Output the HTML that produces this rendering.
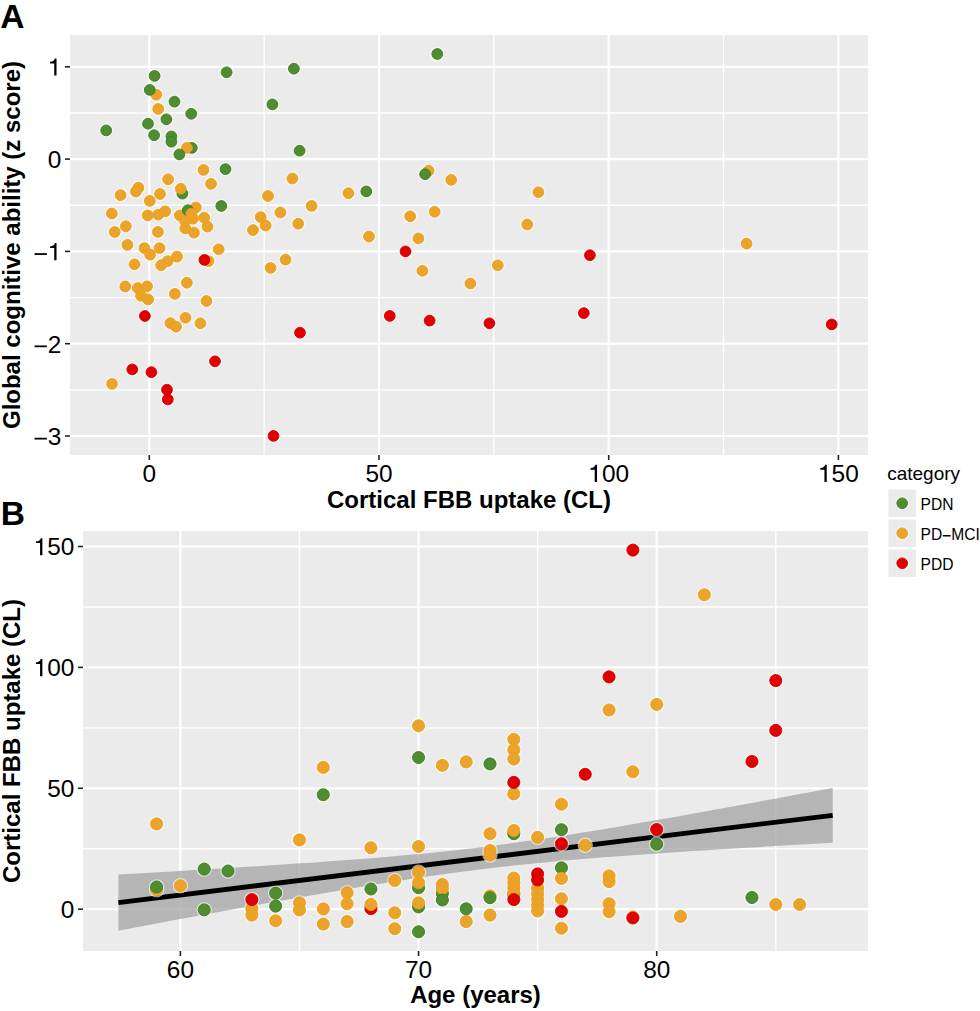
<!DOCTYPE html><html><head><meta charset="utf-8"><style>html,body{margin:0;padding:0;background:#fff;}svg{display:block;}text{font-family:"Liberation Sans",sans-serif;}</style></head><body>
<svg width="980" height="1011" viewBox="0 0 980 1011">
<rect width="980" height="1011" fill="#fff"/>
<rect x="70" y="35" width="798" height="420" fill="#ebebeb"/>
<line x1="264.15" y1="35" x2="264.15" y2="455" stroke="#fff" stroke-width="1.35"/>
<line x1="493.85" y1="35" x2="493.85" y2="455" stroke="#fff" stroke-width="1.35"/>
<line x1="723.55" y1="35" x2="723.55" y2="455" stroke="#fff" stroke-width="1.35"/>
<line x1="70" y1="112.95" x2="868" y2="112.95" stroke="#fff" stroke-width="1.35"/>
<line x1="70" y1="205.25" x2="868" y2="205.25" stroke="#fff" stroke-width="1.35"/>
<line x1="70" y1="297.55" x2="868" y2="297.55" stroke="#fff" stroke-width="1.35"/>
<line x1="70" y1="389.85" x2="868" y2="389.85" stroke="#fff" stroke-width="1.35"/>
<line x1="149.3" y1="35" x2="149.3" y2="455" stroke="#fff" stroke-width="2.2"/>
<line x1="379" y1="35" x2="379" y2="455" stroke="#fff" stroke-width="2.2"/>
<line x1="608.7" y1="35" x2="608.7" y2="455" stroke="#fff" stroke-width="2.2"/>
<line x1="838.4" y1="35" x2="838.4" y2="455" stroke="#fff" stroke-width="2.2"/>
<line x1="70" y1="66.8" x2="868" y2="66.8" stroke="#fff" stroke-width="2.2"/>
<line x1="70" y1="159.1" x2="868" y2="159.1" stroke="#fff" stroke-width="2.2"/>
<line x1="70" y1="251.4" x2="868" y2="251.4" stroke="#fff" stroke-width="2.2"/>
<line x1="70" y1="343.7" x2="868" y2="343.7" stroke="#fff" stroke-width="2.2"/>
<line x1="70" y1="436" x2="868" y2="436" stroke="#fff" stroke-width="2.2"/>
<rect x="83" y="531" width="785" height="420" fill="#ebebeb"/>
<line x1="299.48" y1="531" x2="299.48" y2="951" stroke="#fff" stroke-width="1.35"/>
<line x1="537.62" y1="531" x2="537.62" y2="951" stroke="#fff" stroke-width="1.35"/>
<line x1="775.77" y1="531" x2="775.77" y2="951" stroke="#fff" stroke-width="1.35"/>
<line x1="83" y1="848.75" x2="868" y2="848.75" stroke="#fff" stroke-width="1.35"/>
<line x1="83" y1="727.85" x2="868" y2="727.85" stroke="#fff" stroke-width="1.35"/>
<line x1="83" y1="606.95" x2="868" y2="606.95" stroke="#fff" stroke-width="1.35"/>
<line x1="180.4" y1="531" x2="180.4" y2="951" stroke="#fff" stroke-width="2.2"/>
<line x1="418.55" y1="531" x2="418.55" y2="951" stroke="#fff" stroke-width="2.2"/>
<line x1="656.7" y1="531" x2="656.7" y2="951" stroke="#fff" stroke-width="2.2"/>
<line x1="83" y1="909.2" x2="868" y2="909.2" stroke="#fff" stroke-width="2.2"/>
<line x1="83" y1="788.3" x2="868" y2="788.3" stroke="#fff" stroke-width="2.2"/>
<line x1="83" y1="667.4" x2="868" y2="667.4" stroke="#fff" stroke-width="2.2"/>
<line x1="83" y1="546.5" x2="868" y2="546.5" stroke="#fff" stroke-width="2.2"/>
<text x="142.51" y="481.9" font-size="24.4">0</text>
<text x="365.43" y="481.9" font-size="24.4">50</text>
<path d="M262 0L356 0L356 703L290 703C270 620 225 580 92 566L92 500L262 500Z" transform="translate(588.34,481.9) scale(0.024399999999999998,-0.024399999999999998)"/>
<text x="601.91" y="481.9" font-size="24.4">00</text>
<path d="M262 0L356 0L356 703L290 703C270 620 225 580 92 566L92 500L262 500Z" transform="translate(818.04,481.9) scale(0.024399999999999998,-0.024399999999999998)"/>
<text x="831.61" y="481.9" font-size="24.4">50</text>
<path d="M262 0L356 0L356 703L290 703C270 620 225 580 92 566L92 500L262 500Z" transform="translate(47.83,75.6) scale(0.024399999999999998,-0.024399999999999998)"/>
<text x="47.83" y="167.9" font-size="24.4">0</text>
<rect x="34.53" y="253.15" width="12.35" height="1.78"/>
<path d="M262 0L356 0L356 703L290 703C270 620 225 580 92 566L92 500L262 500Z" transform="translate(47.83,260.2) scale(0.024399999999999998,-0.024399999999999998)"/>
<rect x="34.53" y="345.45" width="12.35" height="1.78"/>
<text x="47.83" y="352.5" font-size="24.4">2</text>
<rect x="34.53" y="437.75" width="12.35" height="1.78"/>
<text x="47.83" y="444.8" font-size="24.4">3</text>
<text x="166.83" y="977.8" font-size="24.4">60</text>
<text x="404.98" y="977.8" font-size="24.4">70</text>
<text x="643.13" y="977.8" font-size="24.4">80</text>
<text x="60.83" y="918" font-size="24.4">0</text>
<text x="47.26" y="797.1" font-size="24.4">50</text>
<path d="M262 0L356 0L356 703L290 703C270 620 225 580 92 566L92 500L262 500Z" transform="translate(33.69,676.2) scale(0.024399999999999998,-0.024399999999999998)"/>
<text x="47.26" y="676.2" font-size="24.4">00</text>
<path d="M262 0L356 0L356 703L290 703C270 620 225 580 92 566L92 500L262 500Z" transform="translate(33.69,555.3) scale(0.024399999999999998,-0.024399999999999998)"/>
<text x="47.26" y="555.3" font-size="24.4">50</text>
<line x1="149.3" y1="455" x2="149.3" y2="460" stroke="#222" stroke-width="1.6"/>
<line x1="379" y1="455" x2="379" y2="460" stroke="#222" stroke-width="1.6"/>
<line x1="608.7" y1="455" x2="608.7" y2="460" stroke="#222" stroke-width="1.6"/>
<line x1="838.4" y1="455" x2="838.4" y2="460" stroke="#222" stroke-width="1.6"/>
<line x1="65" y1="66.8" x2="70" y2="66.8" stroke="#222" stroke-width="1.6"/>
<line x1="65" y1="159.1" x2="70" y2="159.1" stroke="#222" stroke-width="1.6"/>
<line x1="65" y1="251.4" x2="70" y2="251.4" stroke="#222" stroke-width="1.6"/>
<line x1="65" y1="343.7" x2="70" y2="343.7" stroke="#222" stroke-width="1.6"/>
<line x1="65" y1="436" x2="70" y2="436" stroke="#222" stroke-width="1.6"/>
<line x1="180.4" y1="951" x2="180.4" y2="956" stroke="#222" stroke-width="1.6"/>
<line x1="418.55" y1="951" x2="418.55" y2="956" stroke="#222" stroke-width="1.6"/>
<line x1="656.7" y1="951" x2="656.7" y2="956" stroke="#222" stroke-width="1.6"/>
<line x1="78" y1="909.2" x2="83" y2="909.2" stroke="#222" stroke-width="1.6"/>
<line x1="78" y1="788.3" x2="83" y2="788.3" stroke="#222" stroke-width="1.6"/>
<line x1="78" y1="667.4" x2="83" y2="667.4" stroke="#222" stroke-width="1.6"/>
<line x1="78" y1="546.5" x2="83" y2="546.5" stroke="#222" stroke-width="1.6"/>
<polygon points="118.4,874.4 136.3,873.4 154.1,872.4 172.0,871.4 189.8,870.3 207.7,869.3 225.5,868.2 243.4,867.1 261.3,865.9 279.1,864.8 297.0,863.6 314.8,862.4 332.7,861.1 350.5,859.8 368.4,858.4 386.3,856.9 404.1,855.3 422.0,853.7 439.8,851.9 457.7,849.9 475.6,847.9 493.4,845.7 511.3,843.3 529.1,840.8 547.0,838.2 564.8,835.5 582.7,832.6 600.6,829.7 618.4,826.7 636.3,823.6 654.1,820.5 672.0,817.4 689.8,814.2 707.7,811.0 725.6,807.7 743.4,804.5 761.3,801.2 779.1,797.9 797.0,794.5 814.8,791.2 832.7,787.9 832.7,842.7 814.8,843.7 797.0,844.8 779.1,845.8 761.3,846.9 743.4,848.0 725.6,849.1 707.7,850.2 689.8,851.3 672.0,852.5 654.1,853.7 636.3,854.9 618.4,856.3 600.6,857.6 582.7,859.1 564.8,860.6 547.0,862.2 529.1,864.0 511.3,865.8 493.4,867.8 475.6,870.0 457.7,872.3 439.8,874.7 422.0,877.3 404.1,880.0 386.3,882.8 368.4,885.7 350.5,888.6 332.7,891.7 314.8,894.7 297.0,897.9 279.1,901.0 261.3,904.3 243.4,907.5 225.5,910.8 207.7,914.0 189.8,917.3 172.0,920.6 154.1,924.0 136.3,927.3 118.4,930.7" fill="#999999" fill-opacity="0.67"/>
<line x1="118.4" y1="902.55" x2="832.7" y2="815.3" stroke="#000" stroke-width="4.8"/>
<g fill="#fff" opacity="0.6">
<circle cx="293.9" cy="68.7" r="7.05"/>
<circle cx="272.4" cy="104.4" r="7.05"/>
<circle cx="299.6" cy="150.7" r="7.05"/>
<circle cx="437.3" cy="54" r="7.05"/>
<circle cx="292.4" cy="178.5" r="7.05"/>
<circle cx="428.6" cy="170.7" r="7.05"/>
<circle cx="425.1" cy="174.2" r="7.05"/>
<circle cx="451.2" cy="179.9" r="7.05"/>
<circle cx="538.4" cy="192.2" r="7.05"/>
<circle cx="410.2" cy="216.3" r="7.05"/>
<circle cx="434.7" cy="211.8" r="7.05"/>
<circle cx="527.3" cy="224.5" r="7.05"/>
<circle cx="418.4" cy="238.4" r="7.05"/>
<circle cx="405.5" cy="251.4" r="7.05"/>
<circle cx="422.4" cy="270.8" r="7.05"/>
<circle cx="497.8" cy="265.3" r="7.05"/>
<circle cx="470.4" cy="283.5" r="7.05"/>
<circle cx="389.8" cy="315.9" r="7.05"/>
<circle cx="429.6" cy="320.6" r="7.05"/>
<circle cx="489.4" cy="323.3" r="7.05"/>
<circle cx="589.9" cy="255.2" r="7.05"/>
<circle cx="583.8" cy="313.1" r="7.05"/>
<circle cx="746.6" cy="243.6" r="7.05"/>
<circle cx="831.7" cy="324.4" r="7.05"/>
<circle cx="268" cy="196" r="7.05"/>
<circle cx="348.4" cy="193.2" r="7.05"/>
<circle cx="366.3" cy="191.4" r="7.05"/>
<circle cx="311.6" cy="205.9" r="7.05"/>
<circle cx="280.4" cy="212.5" r="7.05"/>
<circle cx="260.7" cy="217.1" r="7.05"/>
<circle cx="265.6" cy="225.5" r="7.05"/>
<circle cx="253" cy="230.1" r="7.05"/>
<circle cx="298.2" cy="223.7" r="7.05"/>
<circle cx="369" cy="236.5" r="7.05"/>
<circle cx="285.6" cy="259.6" r="7.05"/>
<circle cx="270.6" cy="267.9" r="7.05"/>
<circle cx="300" cy="332.7" r="7.05"/>
<circle cx="273.5" cy="435.9" r="7.05"/>
<circle cx="154.6" cy="75.9" r="7.05"/>
<circle cx="156.3" cy="94.7" r="7.05"/>
<circle cx="149.8" cy="89.9" r="7.05"/>
<circle cx="158.2" cy="108.9" r="7.05"/>
<circle cx="166.4" cy="119.3" r="7.05"/>
<circle cx="148" cy="123.7" r="7.05"/>
<circle cx="106.2" cy="130.4" r="7.05"/>
<circle cx="226.6" cy="72.3" r="7.05"/>
<circle cx="174.5" cy="101.6" r="7.05"/>
<circle cx="191.2" cy="113.8" r="7.05"/>
<circle cx="154.1" cy="135.2" r="7.05"/>
<circle cx="171.4" cy="136.4" r="7.05"/>
<circle cx="171.4" cy="141.7" r="7.05"/>
<circle cx="191.8" cy="147.9" r="7.05"/>
<circle cx="186.9" cy="147.9" r="7.05"/>
<circle cx="179.4" cy="154.4" r="7.05"/>
<circle cx="168.2" cy="179.3" r="7.05"/>
<circle cx="182.4" cy="193.6" r="7.05"/>
<circle cx="180.8" cy="188.7" r="7.05"/>
<circle cx="138.4" cy="187.7" r="7.05"/>
<circle cx="135.9" cy="191.5" r="7.05"/>
<circle cx="160" cy="194" r="7.05"/>
<circle cx="149.8" cy="200.9" r="7.05"/>
<circle cx="120.6" cy="195.1" r="7.05"/>
<circle cx="111.8" cy="213.5" r="7.05"/>
<circle cx="125.9" cy="226.3" r="7.05"/>
<circle cx="114.7" cy="232" r="7.05"/>
<circle cx="127.4" cy="244.9" r="7.05"/>
<circle cx="134.5" cy="264.3" r="7.05"/>
<circle cx="147.7" cy="215.4" r="7.05"/>
<circle cx="158.3" cy="214.6" r="7.05"/>
<circle cx="165.2" cy="211.3" r="7.05"/>
<circle cx="157.9" cy="231.9" r="7.05"/>
<circle cx="144.4" cy="248.1" r="7.05"/>
<circle cx="150.1" cy="254.6" r="7.05"/>
<circle cx="159.5" cy="248.1" r="7.05"/>
<circle cx="161.1" cy="265.2" r="7.05"/>
<circle cx="167.7" cy="261.1" r="7.05"/>
<circle cx="177" cy="256.6" r="7.05"/>
<circle cx="208.5" cy="261.1" r="7.05"/>
<circle cx="204.4" cy="259.9" r="7.05"/>
<circle cx="179.9" cy="215.4" r="7.05"/>
<circle cx="193" cy="218.7" r="7.05"/>
<circle cx="204.2" cy="217.7" r="7.05"/>
<circle cx="207.5" cy="226.6" r="7.05"/>
<circle cx="185.3" cy="228.4" r="7.05"/>
<circle cx="194" cy="232.7" r="7.05"/>
<circle cx="185.1" cy="220.9" r="7.05"/>
<circle cx="195.8" cy="207.4" r="7.05"/>
<circle cx="187.8" cy="210.2" r="7.05"/>
<circle cx="203.5" cy="169.9" r="7.05"/>
<circle cx="225.5" cy="169.1" r="7.05"/>
<circle cx="211" cy="183.8" r="7.05"/>
<circle cx="221.3" cy="206" r="7.05"/>
<circle cx="218.7" cy="249.3" r="7.05"/>
<circle cx="125.3" cy="286.5" r="7.05"/>
<circle cx="137.8" cy="288" r="7.05"/>
<circle cx="147.1" cy="286.3" r="7.05"/>
<circle cx="141" cy="295.7" r="7.05"/>
<circle cx="148.1" cy="299.4" r="7.05"/>
<circle cx="144.9" cy="316" r="7.05"/>
<circle cx="186.9" cy="282.7" r="7.05"/>
<circle cx="174.9" cy="293.9" r="7.05"/>
<circle cx="206.5" cy="301" r="7.05"/>
<circle cx="185.5" cy="317.8" r="7.05"/>
<circle cx="200.4" cy="323.3" r="7.05"/>
<circle cx="170.4" cy="323.1" r="7.05"/>
<circle cx="176.1" cy="326.7" r="7.05"/>
<circle cx="132.3" cy="369.4" r="7.05"/>
<circle cx="151.4" cy="372.2" r="7.05"/>
<circle cx="112" cy="383.9" r="7.05"/>
<circle cx="215" cy="361.3" r="7.05"/>
<circle cx="167" cy="389.7" r="7.05"/>
<circle cx="167.8" cy="399.4" r="7.05"/>
<circle cx="191.3" cy="213.7" r="7.05"/>
</g>
<circle cx="293.9" cy="68.7" r="5.4" fill="#4f8e30" stroke="#3d7d1c" stroke-width="0.9"/>
<circle cx="272.4" cy="104.4" r="5.4" fill="#4f8e30" stroke="#3d7d1c" stroke-width="0.9"/>
<circle cx="299.6" cy="150.7" r="5.4" fill="#4f8e30" stroke="#3d7d1c" stroke-width="0.9"/>
<circle cx="437.3" cy="54" r="5.4" fill="#4f8e30" stroke="#3d7d1c" stroke-width="0.9"/>
<circle cx="292.4" cy="178.5" r="5.4" fill="#eaa42c" stroke="#ee9d10" stroke-width="0.9"/>
<circle cx="428.6" cy="170.7" r="5.4" fill="#eaa42c" stroke="#ee9d10" stroke-width="0.9"/>
<circle cx="425.1" cy="174.2" r="5.4" fill="#4f8e30" stroke="#3d7d1c" stroke-width="0.9"/>
<circle cx="451.2" cy="179.9" r="5.4" fill="#eaa42c" stroke="#ee9d10" stroke-width="0.9"/>
<circle cx="538.4" cy="192.2" r="5.4" fill="#eaa42c" stroke="#ee9d10" stroke-width="0.9"/>
<circle cx="410.2" cy="216.3" r="5.4" fill="#eaa42c" stroke="#ee9d10" stroke-width="0.9"/>
<circle cx="434.7" cy="211.8" r="5.4" fill="#eaa42c" stroke="#ee9d10" stroke-width="0.9"/>
<circle cx="527.3" cy="224.5" r="5.4" fill="#eaa42c" stroke="#ee9d10" stroke-width="0.9"/>
<circle cx="418.4" cy="238.4" r="5.4" fill="#eaa42c" stroke="#ee9d10" stroke-width="0.9"/>
<circle cx="405.5" cy="251.4" r="5.4" fill="#e00000" stroke="#d40000" stroke-width="0.9"/>
<circle cx="422.4" cy="270.8" r="5.4" fill="#eaa42c" stroke="#ee9d10" stroke-width="0.9"/>
<circle cx="497.8" cy="265.3" r="5.4" fill="#eaa42c" stroke="#ee9d10" stroke-width="0.9"/>
<circle cx="470.4" cy="283.5" r="5.4" fill="#eaa42c" stroke="#ee9d10" stroke-width="0.9"/>
<circle cx="389.8" cy="315.9" r="5.4" fill="#e00000" stroke="#d40000" stroke-width="0.9"/>
<circle cx="429.6" cy="320.6" r="5.4" fill="#e00000" stroke="#d40000" stroke-width="0.9"/>
<circle cx="489.4" cy="323.3" r="5.4" fill="#e00000" stroke="#d40000" stroke-width="0.9"/>
<circle cx="589.9" cy="255.2" r="5.4" fill="#e00000" stroke="#d40000" stroke-width="0.9"/>
<circle cx="583.8" cy="313.1" r="5.4" fill="#e00000" stroke="#d40000" stroke-width="0.9"/>
<circle cx="746.6" cy="243.6" r="5.4" fill="#eaa42c" stroke="#ee9d10" stroke-width="0.9"/>
<circle cx="831.7" cy="324.4" r="5.4" fill="#e00000" stroke="#d40000" stroke-width="0.9"/>
<circle cx="268" cy="196" r="5.4" fill="#eaa42c" stroke="#ee9d10" stroke-width="0.9"/>
<circle cx="348.4" cy="193.2" r="5.4" fill="#eaa42c" stroke="#ee9d10" stroke-width="0.9"/>
<circle cx="366.3" cy="191.4" r="5.4" fill="#4f8e30" stroke="#3d7d1c" stroke-width="0.9"/>
<circle cx="311.6" cy="205.9" r="5.4" fill="#eaa42c" stroke="#ee9d10" stroke-width="0.9"/>
<circle cx="280.4" cy="212.5" r="5.4" fill="#eaa42c" stroke="#ee9d10" stroke-width="0.9"/>
<circle cx="260.7" cy="217.1" r="5.4" fill="#eaa42c" stroke="#ee9d10" stroke-width="0.9"/>
<circle cx="265.6" cy="225.5" r="5.4" fill="#eaa42c" stroke="#ee9d10" stroke-width="0.9"/>
<circle cx="253" cy="230.1" r="5.4" fill="#eaa42c" stroke="#ee9d10" stroke-width="0.9"/>
<circle cx="298.2" cy="223.7" r="5.4" fill="#eaa42c" stroke="#ee9d10" stroke-width="0.9"/>
<circle cx="369" cy="236.5" r="5.4" fill="#eaa42c" stroke="#ee9d10" stroke-width="0.9"/>
<circle cx="285.6" cy="259.6" r="5.4" fill="#eaa42c" stroke="#ee9d10" stroke-width="0.9"/>
<circle cx="270.6" cy="267.9" r="5.4" fill="#eaa42c" stroke="#ee9d10" stroke-width="0.9"/>
<circle cx="300" cy="332.7" r="5.4" fill="#e00000" stroke="#d40000" stroke-width="0.9"/>
<circle cx="273.5" cy="435.9" r="5.4" fill="#e00000" stroke="#d40000" stroke-width="0.9"/>
<circle cx="154.6" cy="75.9" r="5.4" fill="#4f8e30" stroke="#3d7d1c" stroke-width="0.9"/>
<circle cx="156.3" cy="94.7" r="5.4" fill="#eaa42c" stroke="#ee9d10" stroke-width="0.9"/>
<circle cx="149.8" cy="89.9" r="5.4" fill="#4f8e30" stroke="#3d7d1c" stroke-width="0.9"/>
<circle cx="158.2" cy="108.9" r="5.4" fill="#eaa42c" stroke="#ee9d10" stroke-width="0.9"/>
<circle cx="166.4" cy="119.3" r="5.4" fill="#4f8e30" stroke="#3d7d1c" stroke-width="0.9"/>
<circle cx="148" cy="123.7" r="5.4" fill="#4f8e30" stroke="#3d7d1c" stroke-width="0.9"/>
<circle cx="106.2" cy="130.4" r="5.4" fill="#4f8e30" stroke="#3d7d1c" stroke-width="0.9"/>
<circle cx="226.6" cy="72.3" r="5.4" fill="#4f8e30" stroke="#3d7d1c" stroke-width="0.9"/>
<circle cx="174.5" cy="101.6" r="5.4" fill="#4f8e30" stroke="#3d7d1c" stroke-width="0.9"/>
<circle cx="191.2" cy="113.8" r="5.4" fill="#4f8e30" stroke="#3d7d1c" stroke-width="0.9"/>
<circle cx="154.1" cy="135.2" r="5.4" fill="#4f8e30" stroke="#3d7d1c" stroke-width="0.9"/>
<circle cx="171.4" cy="136.4" r="5.4" fill="#4f8e30" stroke="#3d7d1c" stroke-width="0.9"/>
<circle cx="171.4" cy="141.7" r="5.4" fill="#4f8e30" stroke="#3d7d1c" stroke-width="0.9"/>
<circle cx="191.8" cy="147.9" r="5.4" fill="#4f8e30" stroke="#3d7d1c" stroke-width="0.9"/>
<circle cx="186.9" cy="147.9" r="5.4" fill="#eaa42c" stroke="#ee9d10" stroke-width="0.9"/>
<circle cx="179.4" cy="154.4" r="5.4" fill="#4f8e30" stroke="#3d7d1c" stroke-width="0.9"/>
<circle cx="168.2" cy="179.3" r="5.4" fill="#eaa42c" stroke="#ee9d10" stroke-width="0.9"/>
<circle cx="182.4" cy="193.6" r="5.4" fill="#4f8e30" stroke="#3d7d1c" stroke-width="0.9"/>
<circle cx="180.8" cy="188.7" r="5.4" fill="#eaa42c" stroke="#ee9d10" stroke-width="0.9"/>
<circle cx="138.4" cy="187.7" r="5.4" fill="#eaa42c" stroke="#ee9d10" stroke-width="0.9"/>
<circle cx="135.9" cy="191.5" r="5.4" fill="#eaa42c" stroke="#ee9d10" stroke-width="0.9"/>
<circle cx="160" cy="194" r="5.4" fill="#eaa42c" stroke="#ee9d10" stroke-width="0.9"/>
<circle cx="149.8" cy="200.9" r="5.4" fill="#eaa42c" stroke="#ee9d10" stroke-width="0.9"/>
<circle cx="120.6" cy="195.1" r="5.4" fill="#eaa42c" stroke="#ee9d10" stroke-width="0.9"/>
<circle cx="111.8" cy="213.5" r="5.4" fill="#eaa42c" stroke="#ee9d10" stroke-width="0.9"/>
<circle cx="125.9" cy="226.3" r="5.4" fill="#eaa42c" stroke="#ee9d10" stroke-width="0.9"/>
<circle cx="114.7" cy="232" r="5.4" fill="#eaa42c" stroke="#ee9d10" stroke-width="0.9"/>
<circle cx="127.4" cy="244.9" r="5.4" fill="#eaa42c" stroke="#ee9d10" stroke-width="0.9"/>
<circle cx="134.5" cy="264.3" r="5.4" fill="#eaa42c" stroke="#ee9d10" stroke-width="0.9"/>
<circle cx="147.7" cy="215.4" r="5.4" fill="#eaa42c" stroke="#ee9d10" stroke-width="0.9"/>
<circle cx="158.3" cy="214.6" r="5.4" fill="#eaa42c" stroke="#ee9d10" stroke-width="0.9"/>
<circle cx="165.2" cy="211.3" r="5.4" fill="#eaa42c" stroke="#ee9d10" stroke-width="0.9"/>
<circle cx="157.9" cy="231.9" r="5.4" fill="#eaa42c" stroke="#ee9d10" stroke-width="0.9"/>
<circle cx="144.4" cy="248.1" r="5.4" fill="#eaa42c" stroke="#ee9d10" stroke-width="0.9"/>
<circle cx="150.1" cy="254.6" r="5.4" fill="#eaa42c" stroke="#ee9d10" stroke-width="0.9"/>
<circle cx="159.5" cy="248.1" r="5.4" fill="#eaa42c" stroke="#ee9d10" stroke-width="0.9"/>
<circle cx="161.1" cy="265.2" r="5.4" fill="#eaa42c" stroke="#ee9d10" stroke-width="0.9"/>
<circle cx="167.7" cy="261.1" r="5.4" fill="#eaa42c" stroke="#ee9d10" stroke-width="0.9"/>
<circle cx="177" cy="256.6" r="5.4" fill="#eaa42c" stroke="#ee9d10" stroke-width="0.9"/>
<circle cx="208.5" cy="261.1" r="5.4" fill="#eaa42c" stroke="#ee9d10" stroke-width="0.9"/>
<circle cx="204.4" cy="259.9" r="5.4" fill="#e00000" stroke="#d40000" stroke-width="0.9"/>
<circle cx="179.9" cy="215.4" r="5.4" fill="#eaa42c" stroke="#ee9d10" stroke-width="0.9"/>
<circle cx="193" cy="218.7" r="5.4" fill="#eaa42c" stroke="#ee9d10" stroke-width="0.9"/>
<circle cx="204.2" cy="217.7" r="5.4" fill="#eaa42c" stroke="#ee9d10" stroke-width="0.9"/>
<circle cx="207.5" cy="226.6" r="5.4" fill="#eaa42c" stroke="#ee9d10" stroke-width="0.9"/>
<circle cx="185.3" cy="228.4" r="5.4" fill="#eaa42c" stroke="#ee9d10" stroke-width="0.9"/>
<circle cx="194" cy="232.7" r="5.4" fill="#eaa42c" stroke="#ee9d10" stroke-width="0.9"/>
<circle cx="185.1" cy="220.9" r="5.4" fill="#eaa42c" stroke="#ee9d10" stroke-width="0.9"/>
<circle cx="195.8" cy="207.4" r="5.4" fill="#eaa42c" stroke="#ee9d10" stroke-width="0.9"/>
<circle cx="187.8" cy="210.2" r="5.4" fill="#4f8e30" stroke="#3d7d1c" stroke-width="0.9"/>
<circle cx="203.5" cy="169.9" r="5.4" fill="#eaa42c" stroke="#ee9d10" stroke-width="0.9"/>
<circle cx="225.5" cy="169.1" r="5.4" fill="#4f8e30" stroke="#3d7d1c" stroke-width="0.9"/>
<circle cx="211" cy="183.8" r="5.4" fill="#eaa42c" stroke="#ee9d10" stroke-width="0.9"/>
<circle cx="221.3" cy="206" r="5.4" fill="#4f8e30" stroke="#3d7d1c" stroke-width="0.9"/>
<circle cx="218.7" cy="249.3" r="5.4" fill="#eaa42c" stroke="#ee9d10" stroke-width="0.9"/>
<circle cx="125.3" cy="286.5" r="5.4" fill="#eaa42c" stroke="#ee9d10" stroke-width="0.9"/>
<circle cx="137.8" cy="288" r="5.4" fill="#eaa42c" stroke="#ee9d10" stroke-width="0.9"/>
<circle cx="147.1" cy="286.3" r="5.4" fill="#eaa42c" stroke="#ee9d10" stroke-width="0.9"/>
<circle cx="141" cy="295.7" r="5.4" fill="#eaa42c" stroke="#ee9d10" stroke-width="0.9"/>
<circle cx="148.1" cy="299.4" r="5.4" fill="#eaa42c" stroke="#ee9d10" stroke-width="0.9"/>
<circle cx="144.9" cy="316" r="5.4" fill="#e00000" stroke="#d40000" stroke-width="0.9"/>
<circle cx="186.9" cy="282.7" r="5.4" fill="#eaa42c" stroke="#ee9d10" stroke-width="0.9"/>
<circle cx="174.9" cy="293.9" r="5.4" fill="#eaa42c" stroke="#ee9d10" stroke-width="0.9"/>
<circle cx="206.5" cy="301" r="5.4" fill="#eaa42c" stroke="#ee9d10" stroke-width="0.9"/>
<circle cx="185.5" cy="317.8" r="5.4" fill="#eaa42c" stroke="#ee9d10" stroke-width="0.9"/>
<circle cx="200.4" cy="323.3" r="5.4" fill="#eaa42c" stroke="#ee9d10" stroke-width="0.9"/>
<circle cx="170.4" cy="323.1" r="5.4" fill="#eaa42c" stroke="#ee9d10" stroke-width="0.9"/>
<circle cx="176.1" cy="326.7" r="5.4" fill="#eaa42c" stroke="#ee9d10" stroke-width="0.9"/>
<circle cx="132.3" cy="369.4" r="5.4" fill="#e00000" stroke="#d40000" stroke-width="0.9"/>
<circle cx="151.4" cy="372.2" r="5.4" fill="#e00000" stroke="#d40000" stroke-width="0.9"/>
<circle cx="112" cy="383.9" r="5.4" fill="#eaa42c" stroke="#ee9d10" stroke-width="0.9"/>
<circle cx="215" cy="361.3" r="5.4" fill="#e00000" stroke="#d40000" stroke-width="0.9"/>
<circle cx="167" cy="389.7" r="5.4" fill="#e00000" stroke="#d40000" stroke-width="0.9"/>
<circle cx="167.8" cy="399.4" r="5.4" fill="#e00000" stroke="#d40000" stroke-width="0.9"/>
<circle cx="191.3" cy="213.7" r="5.4" fill="#eaa42c" stroke="#ee9d10" stroke-width="0.9"/>
<g fill="#fff" opacity="0.6">
<circle cx="704.33" cy="594.7" r="7.7"/>
<circle cx="775.77" cy="680.6" r="7.7"/>
<circle cx="775.77" cy="730.4" r="7.7"/>
<circle cx="632.88" cy="550.1" r="7.7"/>
<circle cx="609.07" cy="676.9" r="7.7"/>
<circle cx="609.07" cy="710" r="7.7"/>
<circle cx="656.7" cy="704.4" r="7.7"/>
<circle cx="513.81" cy="739.4" r="7.7"/>
<circle cx="513.81" cy="749.7" r="7.7"/>
<circle cx="513.81" cy="759" r="7.7"/>
<circle cx="466.18" cy="761.9" r="7.7"/>
<circle cx="490" cy="763.9" r="7.7"/>
<circle cx="156.59" cy="823.9" r="7.7"/>
<circle cx="156.59" cy="889.8" r="7.7"/>
<circle cx="156.59" cy="887" r="7.7"/>
<circle cx="180.4" cy="885.7" r="7.7"/>
<circle cx="204.22" cy="869.1" r="7.7"/>
<circle cx="204.22" cy="909.9" r="7.7"/>
<circle cx="228.03" cy="871" r="7.7"/>
<circle cx="251.85" cy="908.6" r="7.7"/>
<circle cx="251.85" cy="915.1" r="7.7"/>
<circle cx="251.85" cy="899.6" r="7.7"/>
<circle cx="275.66" cy="893.1" r="7.7"/>
<circle cx="275.66" cy="906.1" r="7.7"/>
<circle cx="275.66" cy="920.8" r="7.7"/>
<circle cx="299.48" cy="902.9" r="7.7"/>
<circle cx="299.48" cy="909.9" r="7.7"/>
<circle cx="323.29" cy="908.9" r="7.7"/>
<circle cx="323.29" cy="924.1" r="7.7"/>
<circle cx="347.11" cy="892.6" r="7.7"/>
<circle cx="347.11" cy="903.7" r="7.7"/>
<circle cx="347.11" cy="921.6" r="7.7"/>
<circle cx="370.92" cy="847.8" r="7.7"/>
<circle cx="370.92" cy="889" r="7.7"/>
<circle cx="370.92" cy="908.6" r="7.7"/>
<circle cx="370.92" cy="904.5" r="7.7"/>
<circle cx="394.74" cy="880.5" r="7.7"/>
<circle cx="394.74" cy="912.8" r="7.7"/>
<circle cx="394.74" cy="928.7" r="7.7"/>
<circle cx="418.55" cy="846.5" r="7.7"/>
<circle cx="418.55" cy="887.7" r="7.7"/>
<circle cx="418.55" cy="882.8" r="7.7"/>
<circle cx="418.55" cy="872.3" r="7.7"/>
<circle cx="418.55" cy="906.9" r="7.7"/>
<circle cx="418.55" cy="902.9" r="7.7"/>
<circle cx="418.55" cy="931.8" r="7.7"/>
<circle cx="323.29" cy="767.4" r="7.7"/>
<circle cx="323.29" cy="794.7" r="7.7"/>
<circle cx="418.55" cy="757.5" r="7.7"/>
<circle cx="299.48" cy="839.9" r="7.7"/>
<circle cx="418.55" cy="725.8" r="7.7"/>
<circle cx="442.37" cy="765.3" r="7.7"/>
<circle cx="513.81" cy="793.9" r="7.7"/>
<circle cx="513.81" cy="782.4" r="7.7"/>
<circle cx="561.44" cy="804.2" r="7.7"/>
<circle cx="442.37" cy="884.5" r="7.7"/>
<circle cx="442.37" cy="893.5" r="7.7"/>
<circle cx="442.37" cy="888.6" r="7.7"/>
<circle cx="442.37" cy="900" r="7.7"/>
<circle cx="466.18" cy="921.6" r="7.7"/>
<circle cx="466.18" cy="908.8" r="7.7"/>
<circle cx="490" cy="895.9" r="7.7"/>
<circle cx="490" cy="897.7" r="7.7"/>
<circle cx="490" cy="915.1" r="7.7"/>
<circle cx="513.81" cy="894.3" r="7.7"/>
<circle cx="513.81" cy="878" r="7.7"/>
<circle cx="513.81" cy="883" r="7.7"/>
<circle cx="513.81" cy="888" r="7.7"/>
<circle cx="513.81" cy="892.7" r="7.7"/>
<circle cx="513.81" cy="899.6" r="7.7"/>
<circle cx="537.62" cy="888.2" r="7.7"/>
<circle cx="537.62" cy="893.9" r="7.7"/>
<circle cx="537.62" cy="899.6" r="7.7"/>
<circle cx="537.62" cy="905.3" r="7.7"/>
<circle cx="537.62" cy="911" r="7.7"/>
<circle cx="537.62" cy="873.9" r="7.7"/>
<circle cx="537.62" cy="880" r="7.7"/>
<circle cx="561.44" cy="867.8" r="7.7"/>
<circle cx="561.44" cy="878.4" r="7.7"/>
<circle cx="561.44" cy="898.8" r="7.7"/>
<circle cx="561.44" cy="911.4" r="7.7"/>
<circle cx="561.44" cy="928.2" r="7.7"/>
<circle cx="490" cy="833.7" r="7.7"/>
<circle cx="490" cy="850.5" r="7.7"/>
<circle cx="490" cy="855" r="7.7"/>
<circle cx="513.81" cy="833.7" r="7.7"/>
<circle cx="513.81" cy="830.5" r="7.7"/>
<circle cx="537.62" cy="837.4" r="7.7"/>
<circle cx="561.44" cy="829.7" r="7.7"/>
<circle cx="561.44" cy="843.8" r="7.7"/>
<circle cx="585.25" cy="774.3" r="7.7"/>
<circle cx="632.88" cy="771.8" r="7.7"/>
<circle cx="656.7" cy="829.5" r="7.7"/>
<circle cx="656.7" cy="844.2" r="7.7"/>
<circle cx="585.25" cy="845.3" r="7.7"/>
<circle cx="609.07" cy="875.9" r="7.7"/>
<circle cx="609.07" cy="881.6" r="7.7"/>
<circle cx="609.07" cy="903.7" r="7.7"/>
<circle cx="609.07" cy="911.8" r="7.7"/>
<circle cx="632.88" cy="917.1" r="7.7"/>
<circle cx="632.88" cy="918" r="7.7"/>
<circle cx="680.51" cy="916.4" r="7.7"/>
<circle cx="751.96" cy="897.5" r="7.7"/>
<circle cx="775.77" cy="904.5" r="7.7"/>
<circle cx="799.59" cy="904.5" r="7.7"/>
<circle cx="751.96" cy="761.5" r="7.7"/>
</g>
<circle cx="704.33" cy="594.7" r="6.05" fill="#eaa42c" stroke="#ee9d10" stroke-width="0.9"/>
<circle cx="775.77" cy="680.6" r="6.05" fill="#e00000" stroke="#d40000" stroke-width="0.9"/>
<circle cx="775.77" cy="730.4" r="6.05" fill="#e00000" stroke="#d40000" stroke-width="0.9"/>
<circle cx="632.88" cy="550.1" r="6.05" fill="#e00000" stroke="#d40000" stroke-width="0.9"/>
<circle cx="609.07" cy="676.9" r="6.05" fill="#e00000" stroke="#d40000" stroke-width="0.9"/>
<circle cx="609.07" cy="710" r="6.05" fill="#eaa42c" stroke="#ee9d10" stroke-width="0.9"/>
<circle cx="656.7" cy="704.4" r="6.05" fill="#eaa42c" stroke="#ee9d10" stroke-width="0.9"/>
<circle cx="513.81" cy="739.4" r="6.05" fill="#eaa42c" stroke="#ee9d10" stroke-width="0.9"/>
<circle cx="513.81" cy="749.7" r="6.05" fill="#eaa42c" stroke="#ee9d10" stroke-width="0.9"/>
<circle cx="513.81" cy="759" r="6.05" fill="#eaa42c" stroke="#ee9d10" stroke-width="0.9"/>
<circle cx="466.18" cy="761.9" r="6.05" fill="#eaa42c" stroke="#ee9d10" stroke-width="0.9"/>
<circle cx="490" cy="763.9" r="6.05" fill="#4f8e30" stroke="#3d7d1c" stroke-width="0.9"/>
<circle cx="156.59" cy="823.9" r="6.05" fill="#eaa42c" stroke="#ee9d10" stroke-width="0.9"/>
<circle cx="156.59" cy="889.8" r="6.05" fill="#eaa42c" stroke="#ee9d10" stroke-width="0.9"/>
<circle cx="156.59" cy="887" r="6.05" fill="#4f8e30" stroke="#3d7d1c" stroke-width="0.9"/>
<circle cx="180.4" cy="885.7" r="6.05" fill="#eaa42c" stroke="#ee9d10" stroke-width="0.9"/>
<circle cx="204.22" cy="869.1" r="6.05" fill="#4f8e30" stroke="#3d7d1c" stroke-width="0.9"/>
<circle cx="204.22" cy="909.9" r="6.05" fill="#4f8e30" stroke="#3d7d1c" stroke-width="0.9"/>
<circle cx="228.03" cy="871" r="6.05" fill="#4f8e30" stroke="#3d7d1c" stroke-width="0.9"/>
<circle cx="251.85" cy="908.6" r="6.05" fill="#eaa42c" stroke="#ee9d10" stroke-width="0.9"/>
<circle cx="251.85" cy="915.1" r="6.05" fill="#eaa42c" stroke="#ee9d10" stroke-width="0.9"/>
<circle cx="251.85" cy="899.6" r="6.05" fill="#e00000" stroke="#d40000" stroke-width="0.9"/>
<circle cx="275.66" cy="893.1" r="6.05" fill="#4f8e30" stroke="#3d7d1c" stroke-width="0.9"/>
<circle cx="275.66" cy="906.1" r="6.05" fill="#4f8e30" stroke="#3d7d1c" stroke-width="0.9"/>
<circle cx="275.66" cy="920.8" r="6.05" fill="#eaa42c" stroke="#ee9d10" stroke-width="0.9"/>
<circle cx="299.48" cy="902.9" r="6.05" fill="#eaa42c" stroke="#ee9d10" stroke-width="0.9"/>
<circle cx="299.48" cy="909.9" r="6.05" fill="#eaa42c" stroke="#ee9d10" stroke-width="0.9"/>
<circle cx="323.29" cy="908.9" r="6.05" fill="#eaa42c" stroke="#ee9d10" stroke-width="0.9"/>
<circle cx="323.29" cy="924.1" r="6.05" fill="#eaa42c" stroke="#ee9d10" stroke-width="0.9"/>
<circle cx="347.11" cy="892.6" r="6.05" fill="#eaa42c" stroke="#ee9d10" stroke-width="0.9"/>
<circle cx="347.11" cy="903.7" r="6.05" fill="#eaa42c" stroke="#ee9d10" stroke-width="0.9"/>
<circle cx="347.11" cy="921.6" r="6.05" fill="#eaa42c" stroke="#ee9d10" stroke-width="0.9"/>
<circle cx="370.92" cy="847.8" r="6.05" fill="#eaa42c" stroke="#ee9d10" stroke-width="0.9"/>
<circle cx="370.92" cy="889" r="6.05" fill="#4f8e30" stroke="#3d7d1c" stroke-width="0.9"/>
<circle cx="370.92" cy="908.6" r="6.05" fill="#e00000" stroke="#d40000" stroke-width="0.9"/>
<circle cx="370.92" cy="904.5" r="6.05" fill="#eaa42c" stroke="#ee9d10" stroke-width="0.9"/>
<circle cx="394.74" cy="880.5" r="6.05" fill="#eaa42c" stroke="#ee9d10" stroke-width="0.9"/>
<circle cx="394.74" cy="912.8" r="6.05" fill="#eaa42c" stroke="#ee9d10" stroke-width="0.9"/>
<circle cx="394.74" cy="928.7" r="6.05" fill="#eaa42c" stroke="#ee9d10" stroke-width="0.9"/>
<circle cx="418.55" cy="846.5" r="6.05" fill="#eaa42c" stroke="#ee9d10" stroke-width="0.9"/>
<circle cx="418.55" cy="887.7" r="6.05" fill="#4f8e30" stroke="#3d7d1c" stroke-width="0.9"/>
<circle cx="418.55" cy="882.8" r="6.05" fill="#eaa42c" stroke="#ee9d10" stroke-width="0.9"/>
<circle cx="418.55" cy="872.3" r="6.05" fill="#eaa42c" stroke="#ee9d10" stroke-width="0.9"/>
<circle cx="418.55" cy="906.9" r="6.05" fill="#4f8e30" stroke="#3d7d1c" stroke-width="0.9"/>
<circle cx="418.55" cy="902.9" r="6.05" fill="#eaa42c" stroke="#ee9d10" stroke-width="0.9"/>
<circle cx="418.55" cy="931.8" r="6.05" fill="#4f8e30" stroke="#3d7d1c" stroke-width="0.9"/>
<circle cx="323.29" cy="767.4" r="6.05" fill="#eaa42c" stroke="#ee9d10" stroke-width="0.9"/>
<circle cx="323.29" cy="794.7" r="6.05" fill="#4f8e30" stroke="#3d7d1c" stroke-width="0.9"/>
<circle cx="418.55" cy="757.5" r="6.05" fill="#4f8e30" stroke="#3d7d1c" stroke-width="0.9"/>
<circle cx="299.48" cy="839.9" r="6.05" fill="#eaa42c" stroke="#ee9d10" stroke-width="0.9"/>
<circle cx="418.55" cy="725.8" r="6.05" fill="#eaa42c" stroke="#ee9d10" stroke-width="0.9"/>
<circle cx="442.37" cy="765.3" r="6.05" fill="#eaa42c" stroke="#ee9d10" stroke-width="0.9"/>
<circle cx="513.81" cy="793.9" r="6.05" fill="#eaa42c" stroke="#ee9d10" stroke-width="0.9"/>
<circle cx="513.81" cy="782.4" r="6.05" fill="#e00000" stroke="#d40000" stroke-width="0.9"/>
<circle cx="561.44" cy="804.2" r="6.05" fill="#eaa42c" stroke="#ee9d10" stroke-width="0.9"/>
<circle cx="442.37" cy="884.5" r="6.05" fill="#eaa42c" stroke="#ee9d10" stroke-width="0.9"/>
<circle cx="442.37" cy="893.5" r="6.05" fill="#4f8e30" stroke="#3d7d1c" stroke-width="0.9"/>
<circle cx="442.37" cy="888.6" r="6.05" fill="#eaa42c" stroke="#ee9d10" stroke-width="0.9"/>
<circle cx="442.37" cy="900" r="6.05" fill="#4f8e30" stroke="#3d7d1c" stroke-width="0.9"/>
<circle cx="466.18" cy="921.6" r="6.05" fill="#eaa42c" stroke="#ee9d10" stroke-width="0.9"/>
<circle cx="466.18" cy="908.8" r="6.05" fill="#4f8e30" stroke="#3d7d1c" stroke-width="0.9"/>
<circle cx="490" cy="895.9" r="6.05" fill="#eaa42c" stroke="#ee9d10" stroke-width="0.9"/>
<circle cx="490" cy="897.7" r="6.05" fill="#4f8e30" stroke="#3d7d1c" stroke-width="0.9"/>
<circle cx="490" cy="915.1" r="6.05" fill="#eaa42c" stroke="#ee9d10" stroke-width="0.9"/>
<circle cx="513.81" cy="894.3" r="6.05" fill="#4f8e30" stroke="#3d7d1c" stroke-width="0.9"/>
<circle cx="513.81" cy="878" r="6.05" fill="#eaa42c" stroke="#ee9d10" stroke-width="0.9"/>
<circle cx="513.81" cy="883" r="6.05" fill="#eaa42c" stroke="#ee9d10" stroke-width="0.9"/>
<circle cx="513.81" cy="888" r="6.05" fill="#eaa42c" stroke="#ee9d10" stroke-width="0.9"/>
<circle cx="513.81" cy="892.7" r="6.05" fill="#eaa42c" stroke="#ee9d10" stroke-width="0.9"/>
<circle cx="513.81" cy="899.6" r="6.05" fill="#e00000" stroke="#d40000" stroke-width="0.9"/>
<circle cx="537.62" cy="888.2" r="6.05" fill="#eaa42c" stroke="#ee9d10" stroke-width="0.9"/>
<circle cx="537.62" cy="893.9" r="6.05" fill="#eaa42c" stroke="#ee9d10" stroke-width="0.9"/>
<circle cx="537.62" cy="899.6" r="6.05" fill="#eaa42c" stroke="#ee9d10" stroke-width="0.9"/>
<circle cx="537.62" cy="905.3" r="6.05" fill="#eaa42c" stroke="#ee9d10" stroke-width="0.9"/>
<circle cx="537.62" cy="911" r="6.05" fill="#eaa42c" stroke="#ee9d10" stroke-width="0.9"/>
<circle cx="537.62" cy="873.9" r="6.05" fill="#e00000" stroke="#d40000" stroke-width="0.9"/>
<circle cx="537.62" cy="880" r="6.05" fill="#e00000" stroke="#d40000" stroke-width="0.9"/>
<circle cx="561.44" cy="867.8" r="6.05" fill="#4f8e30" stroke="#3d7d1c" stroke-width="0.9"/>
<circle cx="561.44" cy="878.4" r="6.05" fill="#eaa42c" stroke="#ee9d10" stroke-width="0.9"/>
<circle cx="561.44" cy="898.8" r="6.05" fill="#eaa42c" stroke="#ee9d10" stroke-width="0.9"/>
<circle cx="561.44" cy="911.4" r="6.05" fill="#e00000" stroke="#d40000" stroke-width="0.9"/>
<circle cx="561.44" cy="928.2" r="6.05" fill="#eaa42c" stroke="#ee9d10" stroke-width="0.9"/>
<circle cx="490" cy="833.7" r="6.05" fill="#eaa42c" stroke="#ee9d10" stroke-width="0.9"/>
<circle cx="490" cy="850.5" r="6.05" fill="#eaa42c" stroke="#ee9d10" stroke-width="0.9"/>
<circle cx="490" cy="855" r="6.05" fill="#eaa42c" stroke="#ee9d10" stroke-width="0.9"/>
<circle cx="513.81" cy="833.7" r="6.05" fill="#4f8e30" stroke="#3d7d1c" stroke-width="0.9"/>
<circle cx="513.81" cy="830.5" r="6.05" fill="#eaa42c" stroke="#ee9d10" stroke-width="0.9"/>
<circle cx="537.62" cy="837.4" r="6.05" fill="#eaa42c" stroke="#ee9d10" stroke-width="0.9"/>
<circle cx="561.44" cy="829.7" r="6.05" fill="#4f8e30" stroke="#3d7d1c" stroke-width="0.9"/>
<circle cx="561.44" cy="843.8" r="6.05" fill="#e00000" stroke="#d40000" stroke-width="0.9"/>
<circle cx="585.25" cy="774.3" r="6.05" fill="#e00000" stroke="#d40000" stroke-width="0.9"/>
<circle cx="632.88" cy="771.8" r="6.05" fill="#eaa42c" stroke="#ee9d10" stroke-width="0.9"/>
<circle cx="656.7" cy="829.5" r="6.05" fill="#e00000" stroke="#d40000" stroke-width="0.9"/>
<circle cx="656.7" cy="844.2" r="6.05" fill="#4f8e30" stroke="#3d7d1c" stroke-width="0.9"/>
<circle cx="585.25" cy="845.3" r="6.05" fill="#eaa42c" stroke="#ee9d10" stroke-width="0.9"/>
<circle cx="609.07" cy="875.9" r="6.05" fill="#eaa42c" stroke="#ee9d10" stroke-width="0.9"/>
<circle cx="609.07" cy="881.6" r="6.05" fill="#eaa42c" stroke="#ee9d10" stroke-width="0.9"/>
<circle cx="609.07" cy="903.7" r="6.05" fill="#eaa42c" stroke="#ee9d10" stroke-width="0.9"/>
<circle cx="609.07" cy="911.8" r="6.05" fill="#eaa42c" stroke="#ee9d10" stroke-width="0.9"/>
<circle cx="632.88" cy="917.1" r="6.05" fill="#eaa42c" stroke="#ee9d10" stroke-width="0.9"/>
<circle cx="632.88" cy="918" r="6.05" fill="#e00000" stroke="#d40000" stroke-width="0.9"/>
<circle cx="680.51" cy="916.4" r="6.05" fill="#eaa42c" stroke="#ee9d10" stroke-width="0.9"/>
<circle cx="751.96" cy="897.5" r="6.05" fill="#4f8e30" stroke="#3d7d1c" stroke-width="0.9"/>
<circle cx="775.77" cy="904.5" r="6.05" fill="#eaa42c" stroke="#ee9d10" stroke-width="0.9"/>
<circle cx="799.59" cy="904.5" r="6.05" fill="#eaa42c" stroke="#ee9d10" stroke-width="0.9"/>
<circle cx="751.96" cy="761.5" r="6.05" fill="#e00000" stroke="#d40000" stroke-width="0.9"/>
<text x="469" y="507.8" font-size="24" font-weight="bold" text-anchor="middle">Cortical FBB uptake (CL)</text>
<text x="475.5" y="1003.3" font-size="24" font-weight="bold" text-anchor="middle">Age (years)</text>
<text transform="translate(20.2,245) rotate(-90)" font-size="24" font-weight="bold" text-anchor="middle">Global cognitive ability (z score)</text>
<text transform="translate(20.2,741) rotate(-90)" font-size="24" font-weight="bold" text-anchor="middle">Cortical FBB uptake (CL)</text>
<text x="0.3" y="27.6" font-size="33.6" font-weight="bold">A</text>
<text x="0.8" y="525.2" font-size="33.6" font-weight="bold">B</text>
<text x="887.2" y="480.2" font-size="19">category</text>
<rect x="888.4" y="489.5" width="27.5" height="27.5" fill="#ebebeb"/>
<circle cx="902.2" cy="503.25" r="6.9" fill="#fff" opacity="0.6"/>
<circle cx="902.2" cy="503.25" r="5.35" fill="#4f8e30" stroke="#3d7d1c" stroke-width="0.9"/>
<text x="920.5" y="509.5" font-size="15.6">PDN</text>
<rect x="888.4" y="519.5" width="27.5" height="27.5" fill="#ebebeb"/>
<circle cx="902.2" cy="533.25" r="6.9" fill="#fff" opacity="0.6"/>
<circle cx="902.2" cy="533.25" r="5.35" fill="#eaa42c" stroke="#ee9d10" stroke-width="0.9"/>
<text x="920.5" y="539.5" font-size="15.6">PD</text>
<rect x="942.78" y="535" width="7.89" height="1.5"/>
<text x="951.28" y="539.5" font-size="15.6">MCI</text>
<rect x="888.4" y="549.5" width="27.5" height="27.5" fill="#ebebeb"/>
<circle cx="902.2" cy="563.25" r="6.9" fill="#fff" opacity="0.6"/>
<circle cx="902.2" cy="563.25" r="5.35" fill="#e00000" stroke="#d40000" stroke-width="0.9"/>
<text x="920.5" y="569.5" font-size="15.6">PDD</text>
</svg></body></html>
